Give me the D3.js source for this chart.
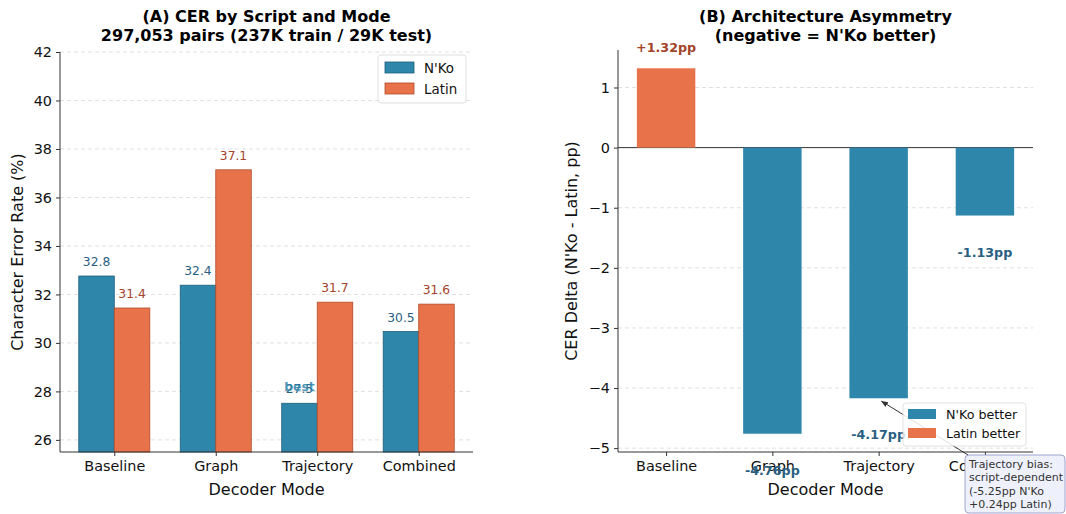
<!DOCTYPE html>
<html><head><meta charset="utf-8">
<script src="https://cdn.jsdelivr.net/npm/d3@7"></script>
<style>body{margin:0;background:#fff}svg text{font-family:"DejaVu Sans",sans-serif}</style>
</head><body><svg id="c" width="1066" height="514"></svg>
<script>
const modes = ["Baseline","Graph","Trajectory","Combined"];
const nkoCER = [32.76, 32.38, 27.51, 30.47];
const latinCER = [31.44, 37.14, 31.68, 31.60];
const deltaCER = [1.32, -4.76, -4.17, -1.13];
const leftTicks = [26,28,30,32,34,36,38,40,42];
const rightTicks = [-5,-4,-3,-2,-1,0,1];
const seriesNames = ["N'Ko","Latin"];
const deltaNames = ["N'Ko better","Latin better"];
const noteLines = ["Trajectory bias:","script-dependent","(-5.25pp N'Ko","+0.24pp Latin)"];

const FF="DejaVu Sans";
const BLUE="#2E86AB", ORANGE="#E8734A", BLUE_E="#1d5f7c", ORANGE_E="#b24a2a";
const BLUE_T="#2a5f82", ORANGE_T="#a3432a";
const svg = d3.select("#c");
svg.append("defs").append("marker").attr("id","ah").attr("viewBox","0 0 10 10").attr("refX",9).attr("refY",5)
  .attr("markerWidth",7).attr("markerHeight",7).attr("orient","auto")
  .append("path").attr("d","M0,1 L10,5 L0,9 z").attr("fill","#333");

function txt(g,x,y,s,size,opt={}){
  const t=g.append("text").attr("x",x).attr("y",y).attr("font-family",FF).attr("font-size",size)
    .attr("fill",opt.fill||"#111").attr("text-anchor",opt.anchor||"middle").text(s);
  if(opt.bold) t.attr("font-weight","bold");
  if(opt.transform) t.attr("transform",opt.transform);
  return t;
}
function grid(g, y, ticks, x0, x1, skip){
  ticks.forEach(t=>{ if(skip!==undefined && t===skip) return;
    g.append("line").attr("x1",x0).attr("x2",x1).attr("y1",y(t)).attr("y2",y(t))
     .attr("stroke","#cccccc").attr("stroke-width",0.8).attr("stroke-dasharray","4,3").attr("opacity",0.75);});
}
function axes(g, x, y, ticks, fmt, L, R, B){
  const ya = g.append("g").attr("transform",`translate(${L},0)`)
    .call(d3.axisLeft(y).tickValues(ticks).tickSize(4).tickPadding(4).tickFormat(fmt));
  const xa = g.append("g").attr("transform",`translate(0,${B})`)
    .call(d3.axisBottom(x).tickSize(4).tickPadding(5));
  [ya,xa].forEach(a=>{a.attr("font-family",FF).attr("font-size",14.4);
    a.select(".domain").remove(); a.selectAll("text").attr("font-family",FF).attr("font-size",14.4).attr("fill","#111");
    a.selectAll("line").attr("stroke","#333");});
  g.append("line").attr("x1",L).attr("x2",L).attr("y1",y.range()[1]).attr("y2",B).attr("stroke","#333").attr("stroke-width",1);
  g.append("line").attr("x1",L).attr("x2",R).attr("y1",B).attr("y2",B).attr("stroke","#333").attr("stroke-width",1);
}

// ---------- Panel A ----------
{
  const L=60,R=473,T=52,B=452;
  const g=svg.append("g");
  const xi=d3.scaleLinear().domain([-0.535,3.535]).range([L,R]);
  const x=d3.scaleOrdinal().domain(modes).range(modes.map((m,i)=>xi(i)));
  const y=d3.scaleLinear().domain([25.5,42]).range([B,T]);
  grid(g,y,leftTicks,L,R);
  const w=0.35, pw=xi(w)-xi(0);
  const series=[nkoCER,latinCER], cols=[BLUE,ORANGE], ecols=[BLUE_E,ORANGE_E], tcols=[BLUE_T,ORANGE_T];
  series.forEach((vals,s)=>{
    g.selectAll(null).data(vals).enter().append("rect")
      .attr("x",(d,i)=>xi(i+(s===0?-w:0))).attr("width",pw)
      .attr("y",d=>y(d)).attr("height",d=>B-y(d))
      .attr("fill",cols[s]).attr("stroke",ecols[s]).attr("stroke-width",0.8);
    vals.forEach((d,i)=>txt(g,xi(i+(s===0?-w/2:w/2)),y(d)-10,d.toFixed(1),12.3,{fill:tcols[s]}));
  });
  const bi=nkoCER.indexOf(d3.min(nkoCER));
  txt(g,xi(bi-w/2),y(nkoCER[bi])-12,"best",12.3,{fill:BLUE,bold:true}).attr("opacity",0.85);
  axes(g,x,y,leftTicks,d3.format("d"),L,R,B);
  txt(g,(L+R)/2,495,"Decoder Mode",16);
  txt(g,0,0,"Character Error Rate (%)",16,{transform:`translate(23,${(T+B)/2}) rotate(-90)`});
  txt(g,(L+R)/2,22,"(A) CER by Script and Mode",16,{bold:true,fill:"#000"});
  txt(g,(L+R)/2,41,"297,053 pairs (237K train / 29K test)",16,{bold:true,fill:"#000"});
  const lg=g.append("g").attr("transform","translate(378,55)");
  lg.append("rect").attr("width",88).attr("height",48).attr("rx",3).attr("fill","#fff").attr("stroke","#ddd").attr("opacity",0.9);
  seriesNames.forEach((n,i)=>{
    lg.append("rect").attr("x",7).attr("y",7+i*21).attr("width",29).attr("height",11).attr("fill",cols[i]).attr("stroke",ecols[i]).attr("stroke-width",0.8);
    txt(lg,46,18+i*21,n,13.4,{anchor:"start"});
  });
}

// ---------- Panel B ----------
{
  const L=618,R=1033,T=50,B=452;
  const g=svg.append("g");
  const xi=d3.scaleLinear().domain([-0.4525,3.4525]).range([L,R]);
  const x=d3.scaleOrdinal().domain(modes).range(modes.map((m,i)=>xi(i)));
  const y=d3.scaleLinear().domain([-5.064,1.624]).range([B,T]);
  grid(g,y,rightTicks,L,R,0);
  g.append("line").attr("x1",L).attr("x2",R).attr("y1",y(0)).attr("y2",y(0)).attr("stroke","#333").attr("stroke-width",1);
  const w=0.55, pw=xi(w)-xi(0);
  g.selectAll(null).data(deltaCER).enter().append("rect")
    .attr("x",(d,i)=>xi(i-w/2)).attr("width",pw)
    .attr("y",d=>y(Math.max(0,d))).attr("height",d=>Math.abs(y(d)-y(0)))
    .attr("fill",d=>d<0?BLUE:ORANGE);
  axes(g,x,y,rightTicks,d=>d<0?"\u2212"+Math.abs(d):d,L,R,B);
  deltaCER.forEach((d,i)=>txt(g,xi(i),d>=0?y(d)-16:y(d)+41,(d>=0?"+":"")+d.toFixed(2)+"pp",12.7,{bold:true,fill:d<0?BLUE_T:ORANGE_T}));
  txt(g,(L+R)/2,495,"Decoder Mode",16);
  txt(g,0,0,"CER Delta (N'Ko - Latin, pp)",16,{transform:`translate(577,${(T+B)/2}) rotate(-90)`});
  txt(g,(L+R)/2,22,"(B) Architecture Asymmetry",16,{bold:true,fill:"#000"});
  txt(g,(L+R)/2,41,"(negative = N'Ko better)",16,{bold:true,fill:"#000"});
  const tx=xi(2)+3, ty=y(deltaCER[2])+3;
  g.append("line").attr("x1",968).attr("y1",455).attr("x2",tx).attr("y2",ty).attr("stroke","#333").attr("stroke-width",1).attr("marker-end","url(#ah)");
  const lg=g.append("g").attr("transform","translate(903,403)");
  lg.append("rect").attr("width",123).attr("height",43).attr("rx",3).attr("fill","#fff").attr("stroke","#ddd").attr("opacity",0.85);
  deltaNames.forEach((n,i)=>{
    lg.append("rect").attr("x",5).attr("y",6+i*19).attr("width",28).attr("height",10).attr("fill",i===0?BLUE:ORANGE);
    txt(lg,43,16+i*19,n,12.7,{anchor:"start"});
  });
  const ag=svg.append("g").attr("transform","translate(965,455)");
  ag.append("rect").attr("width",100).attr("height",58).attr("rx",4).attr("fill","#eef1fb").attr("stroke","#9fa3cf").attr("stroke-width",1);
  noteLines.forEach((t,i)=>txt(ag,4,13+i*13.3,t,11,{anchor:"start",fill:"#333"}));
}
</script></body></html>
